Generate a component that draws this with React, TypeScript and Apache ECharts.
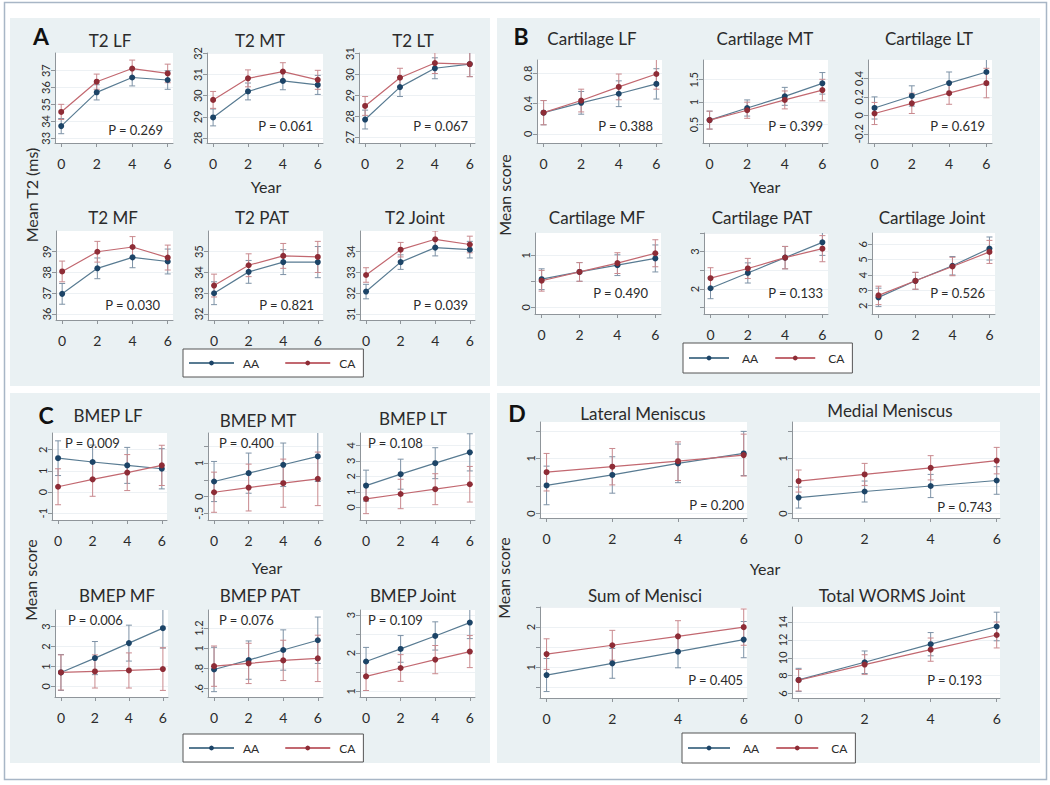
import React, { useEffect, useRef } from 'react';
import * as echarts from 'echarts';

// ---------- DATA ----------
const years = [0, 2, 4, 6];

const plotTitles = [
  'T2 LF', 'T2 MT', 'T2 LT', 'T2 MF', 'T2 PAT', 'T2 Joint',
  'Cartilage LF', 'Cartilage MT', 'Cartilage LT', 'Cartilage MF', 'Cartilage PAT', 'Cartilage Joint',
  'BMEP LF', 'BMEP MT', 'BMEP LT', 'BMEP MF', 'BMEP PAT', 'BMEP Joint',
  'Lateral Meniscus', 'Medial Meniscus', 'Sum of Menisci', 'Total WORMS Joint',
];

const pValues = [
  '0.269', '0.061', '0.067', '0.030', '0.821', '0.039',
  '0.388', '0.399', '0.619', '0.490', '0.133', '0.526',
  '0.009', '0.400', '0.108', '0.006', '0.076', '0.109',
  '0.200', '0.743', '0.405', '0.193',
];

const aaMean = [
  [33.72, 35.72, 36.6, 36.45],
  [28.97, 30.2, 30.7, 30.51],
  [27.85, 29.4, 30.3, 30.5],
  [36.97, 38.2, 38.73, 38.53],
  [33.0, 34.03, 34.5, 34.5],
  [32.08, 33.5, 34.2, 34.1],
  [0.28, 0.41, 0.53, 0.66],
  [0.6, 0.87, 1.13, 1.42],
  [0.08, 0.21, 0.35, 0.47],
  [0.54, 0.68, 0.81, 0.94],
  [2.02, 2.43, 2.84, 3.25],
  [2.54, 3.62, 4.6, 5.72],
  [1.6, 1.42, 1.26, 1.1],
  [0.45, 0.7, 0.95, 1.2],
  [1.4, 2.14, 2.85, 3.55],
  [0.7, 1.42, 2.17, 2.92],
  [0.79, 0.883, 0.983, 1.08],
  [1.78, 2.11, 2.45, 2.8],
  [0.51, 0.7, 0.91, 1.09],
  [0.29, 0.4, 0.5, 0.6],
  [0.81, 1.1, 1.39, 1.69],
  [7.52, 9.5, 11.52, 13.5],
];

const caMean = [
  [34.56, 36.35, 37.13, 36.84],
  [29.8, 30.82, 31.14, 30.75],
  [28.5, 29.85, 30.55, 30.5],
  [38.05, 39.0, 39.23, 38.72],
  [33.37, 34.35, 34.8, 34.75],
  [32.88, 34.1, 34.6, 34.35],
  [0.28, 0.44, 0.62, 0.79],
  [0.6, 0.82, 1.05, 1.27],
  [0.02, 0.13, 0.24, 0.35],
  [0.51, 0.68, 0.85, 1.04],
  [2.29, 2.55, 2.84, 3.08],
  [2.67, 3.62, 4.55, 5.5],
  [0.25, 0.6, 0.92, 1.26],
  [0.13, 0.27, 0.4, 0.53],
  [0.54, 0.86, 1.17, 1.49],
  [0.7, 0.75, 0.8, 0.87],
  [0.823, 0.85, 0.88, 0.9],
  [1.39, 1.61, 1.83, 2.04],
  [0.75, 0.85, 0.95, 1.06],
  [0.59, 0.71, 0.83, 0.96],
  [1.33, 1.55, 1.77, 2.0],
  [7.49, 9.24, 10.91, 12.55],
];

// half-width of the 95% CI
const aaErr = [
  [0.45, 0.45, 0.5, 0.55],
  [0.4, 0.4, 0.42, 0.45],
  [0.45, 0.45, 0.5, 0.6],
  [0.5, 0.5, 0.5, 0.6],
  [0.55, 0.55, 0.6, 0.75],
  [0.35, 0.35, 0.4, 0.4],
  [0.16, 0.15, 0.17, 0.2],
  [0.2, 0.18, 0.2, 0.24],
  [0.12, 0.11, 0.12, 0.14],
  [0.2, 0.18, 0.2, 0.26],
  [0.28, 0.27, 0.3, 0.35],
  [0.6, 0.55, 0.6, 0.75],
  [0.82, 0.8, 0.85, 0.95],
  [0.6, 0.6, 0.65, 0.75],
  [1.0, 0.97, 1.0, 1.2],
  [0.9, 0.83, 0.9, 1.0],
  [0.22, 0.19, 0.2, 0.23],
  [0.37, 0.35, 0.37, 0.42],
  [0.35, 0.33, 0.35, 0.4],
  [0.19, 0.19, 0.21, 0.25],
  [0.41, 0.37, 0.4, 0.45],
  [1.3, 1.26, 1.3, 1.6],
];

const caErr = [
  [0.45, 0.45, 0.5, 0.55],
  [0.4, 0.4, 0.42, 0.45],
  [0.45, 0.45, 0.5, 0.6],
  [0.5, 0.5, 0.5, 0.6],
  [0.55, 0.55, 0.6, 0.75],
  [0.35, 0.35, 0.4, 0.4],
  [0.16, 0.15, 0.17, 0.2],
  [0.2, 0.18, 0.2, 0.24],
  [0.12, 0.11, 0.12, 0.16],
  [0.2, 0.18, 0.2, 0.26],
  [0.28, 0.27, 0.3, 0.35],
  [0.6, 0.55, 0.6, 0.75],
  [0.85, 0.8, 0.85, 0.95],
  [0.6, 0.7, 0.72, 0.8],
  [0.95, 0.95, 1.0, 1.15],
  [0.88, 0.83, 0.88, 1.07],
  [0.2, 0.2, 0.2, 0.23],
  [0.37, 0.35, 0.37, 0.42],
  [0.34, 0.33, 0.35, 0.38],
  [0.2, 0.2, 0.22, 0.24],
  [0.38, 0.37, 0.39, 0.45],
  [1.2, 1.1, 1.3, 1.45],
];

const yTickVals = [
  [33, 34, 35, 36, 37], [28, 29, 30, 31, 32], [27, 28, 29, 30, 31],
  [36, 37, 38, 39], [32, 33, 34, 35], [31, 32, 33, 34],
  [0, 0.4, 0.8], [0.5, 1, 1.5], [-0.2, 0, 0.2, 0.4],
  [0, 0.5, 1], [1.5, 2, 2.5, 3, 3.5], [2, 3, 4, 5, 6],
  [-1, 0, 1, 2], [-0.5, 0, 0.5, 1, 1.5], [0, 1, 2, 3, 4],
  [0, 1, 2, 3], [0.6, 0.8, 1, 1.2], [1, 1.5, 2, 2.5, 3],
  [0, 0.5, 1, 1.5], [0, 0.5, 1, 1.5], [0.5, 1, 1.5, 2, 2.5], [6, 8, 10, 12, 14],
];

const yLabelVals = [
  [33, 34, 35, 36, 37], [28, 29, 30, 31, 32], [27, 28, 29, 30, 31],
  [36, 37, 38, 39], [32, 33, 34, 35], [31, 32, 33, 34],
  [0, 0.4, 0.8], [0.5, 1, 1.5], [-0.2, 0, 0.2, 0.4],
  [0, 1], [2, 3], [2, 3, 4, 5, 6],
  [-1, 0, 1, 2], [-0.5, 0, 1], [0, 1, 2, 3, 4],
  [0, 1, 2, 3], [0.6, 0.8, 1, 1.2], [1, 2, 3],
  [0, 1], [0, 1], [1, 2], [6, 8, 10, 12, 14],
];

const yLabelText = [
  ['33', '34', '35', '36', '37'], ['28', '29', '30', '31', '32'], ['27', '28', '29', '30', '31'],
  ['36', '37', '38', '39'], ['32', '33', '34', '35'], ['31', '32', '33', '34'],
  ['0', '0.4', '0.8'], ['0.5', '1', '1.5'], ['-0.2', '0', '0.2', '0.4'],
  ['0', '1'], ['2', '3'], ['2', '3', '4', '5', '6'],
  ['-1', '0', '1', '2'], ['-.5', '0', '1'], ['0', '1', '2', '3', '4'],
  ['0', '1', '2', '3'], ['.6', '.8', '1', '1.2'], ['1', '2', '3'],
  ['0', '1'], ['0', '1'], ['1', '2'], ['6', '8', '10', '12', '14'],
];

const yRange = [
  [32.72, 38.05], [27.76, 32.02], [26.73, 31.03], [35.71, 40.0], [31.71, 36.0], [30.71, 35.0],
  [-0.12, 0.975], [0.09, 1.94], [-0.3, 0.6], [-0.13, 1.43], [1.33, 3.5], [1.46, 6.73],
  [-1.32, 2.79], [-0.7, 1.9], [-0.82, 4.8], [-0.53, 3.83], [0.517, 1.38], [0.85, 3.13],
  [-0.08, 1.66], [-0.08, 1.66], [0.24, 2.5], [5.5, 15.68],
];

const xRange = [
  ...Array(18).fill([-0.35, 6.3]),
  [-0.2, 6.1], [-0.2, 6.1], [-0.2, 6.1], [-0.2, 6.1],
];

// ---------- LAYOUT ----------
// plot boxes: left, top, width, height
const gridBox = [
  [55, 53, 118, 90], [207, 53, 116, 90], [359, 53, 116, 90],
  [56, 231, 117, 89], [208, 231, 115, 89], [360, 231, 115, 89],
  [537, 60, 125, 83], [703, 60, 125, 83], [868, 60, 124, 83],
  [535, 233, 126, 81], [704, 233, 124, 81], [872, 233, 123, 81],
  [52, 433, 115, 87], [208, 433, 115, 87], [360, 433, 115, 87],
  [55, 610, 113, 87], [208, 610, 115, 87], [360, 610, 115, 87],
  [540, 422, 207, 96], [792, 422, 208, 96],
  [540, 607, 207, 91], [792, 607, 208, 91],
];

const titlePos = [
  [110, 40], [260, 40], [413, 40], [113, 217], [262, 217], [415, 217],
  [592, 38], [765, 38], [929, 38], [597, 217], [762, 217], [932, 217],
  [108, 415], [258, 420], [413, 418], [117, 595], [260, 595], [413, 595],
  [643, 413], [890, 410], [645, 595], [892, 595],
];

const pPos: [number, number, string][] = [
  [163, 130, 'right'], [313, 126, 'right'], [468, 126, 'right'],
  [160, 305, 'right'], [314, 305, 'right'], [468, 305, 'right'],
  [653, 126, 'right'], [823, 126, 'right'], [985, 126, 'right'],
  [648, 293, 'right'], [823, 293, 'right'], [985, 293, 'right'],
  [65, 443, 'left'], [219, 443, 'left'], [368, 443, 'left'],
  [68, 620, 'left'], [219, 620, 'left'], [368, 620, 'left'],
  [744, 505, 'right'], [992, 507, 'right'], [743, 680, 'right'], [982, 680, 'right'],
];

// legend: left, top, itemWidth, itemGap, text gap, vertical padding, right padding
const panels = [
  { box: [10, 18, 480, 368], letter: 'A', lp: [41, 36], year: [266, 186], ylab: 'Mean T2 (ms)', yp: [31, 195], legend: [183, 349, 45, 25, 4, 8, 8] },
  { box: [497, 18, 543, 368], letter: 'B', lp: [521, 36], year: [765, 186], ylab: 'Mean score', yp: [504, 195], legend: [683, 343, 40, 16, 8, 9, 8] },
  { box: [10, 393, 480, 370], letter: 'C', lp: [46, 415], year: [267, 567], ylab: 'Mean score', yp: [30, 580], legend: [183, 734, 45, 25, 4, 8, 8] },
  { box: [497, 393, 543, 370], letter: 'D', lp: [517, 413], year: [765, 568], ylab: 'Mean score', yp: [503, 578], legend: [682, 733, 42, 16, 8, 9, 8] },
];

const FONT = 'Lato, "Open Sans", "DejaVu Sans", sans-serif';
const AA_LINE = '#587b92';
const AA_MARK = '#1c4467';
const AA_ERR = '#7d92a6';
const CA_LINE = '#c26870';
const CA_MARK = '#8e2c36';
const CA_ERR = '#c9898e';
const AXIS = '#8f959a';
const TEXT = '#2b2b2b';

function errRender(color: string) {
  return (params: any, api: any) => {
    const x = api.value(0);
    const lo = api.coord([x, api.value(1)]);
    const hi = api.coord([x, api.value(2)]);
    const c = 3;
    const mk = (x1: number, y1: number, x2: number, y2: number) => ({
      type: 'line',
      shape: { x1, y1, x2, y2 },
      style: { stroke: color, lineWidth: 1 },
    });
    return {
      type: 'group',
      children: [
        mk(lo[0], lo[1], hi[0], hi[1]),
        mk(lo[0] - c, lo[1], lo[0] + c, lo[1]),
        mk(hi[0] - c, hi[1], hi[0] + c, hi[1]),
      ],
    };
  };
}

function buildOption() {
  const grid: any[] = [];
  const xAxis: any[] = [];
  const yAxis: any[] = [];
  const series: any[] = [];
  const graphic: any[] = [];

  // outer frame
  graphic.push({
    type: 'rect', z: -20, silent: true,
    shape: { x: 4.5, y: 2.5, width: 1042, height: 777 },
    style: { fill: '#ffffff', stroke: '#a8b6c6', lineWidth: 1.5 },
  });

  panels.forEach((p) => {
    const [x, y, w, h] = p.box;
    graphic.push({
      type: 'rect', z: -10, silent: true,
      shape: { x, y, width: w, height: h },
      style: { fill: '#eaf1f3' },
    });
    graphic.push({
      type: 'text', z: 10, x: p.lp[0], y: p.lp[1],
      style: { text: p.letter, fontSize: 23, fontWeight: 'bold', fontFamily: FONT, fill: '#111', align: 'center', verticalAlign: 'middle' },
    });
    graphic.push({
      type: 'text', z: 10, x: p.year[0], y: p.year[1],
      style: { text: 'Year', fontSize: 16, fontFamily: FONT, fill: TEXT, align: 'center', verticalAlign: 'middle' },
    });
    graphic.push({
      type: 'text', z: 10, x: p.yp[0], y: p.yp[1], rotation: Math.PI / 2,
      style: { text: p.ylab, fontSize: 16, fontFamily: FONT, fill: TEXT, align: 'center', verticalAlign: 'middle' },
    });
  });

  plotTitles.forEach((t, i) => {
    const [l, tp, w, h] = gridBox[i];
    grid.push({
      left: l, top: tp, width: w, height: h,
      show: true, backgroundColor: '#ffffff', borderWidth: 0,
      containLabel: false, outerBoundsMode: 'none',
    });
    xAxis.push({
      type: 'value', gridIndex: i, min: xRange[i][0], max: xRange[i][1],
      axisLine: { show: true, onZero: false, lineStyle: { color: AXIS, width: 1 } },
      axisTick: { show: true, length: 4, customValues: years, lineStyle: { color: AXIS } },
      axisLabel: { customValues: years, fontSize: 14, margin: 13, color: TEXT, fontFamily: FONT },
      splitLine: { show: false },
    });
    const vals = yLabelVals[i];
    const txt = yLabelText[i];
    yAxis.push({
      type: 'value', gridIndex: i, min: yRange[i][0], max: yRange[i][1],
      axisLine: { show: true, onZero: false, lineStyle: { color: AXIS, width: 1 } },
      axisTick: { show: true, length: 4, customValues: yTickVals[i], lineStyle: { color: AXIS } },
      axisLabel: {
        customValues: vals, rotate: 90, fontSize: 11, margin: 4, color: TEXT, fontFamily: FONT,
        formatter: (v: number) => {
          const k = vals.findIndex((u) => Math.abs(u - v) < 1e-9);
          return k >= 0 ? txt[k] : '';
        },
      },
      splitLine: { show: true, lineStyle: { color: '#edf1f4', width: 1 } },
    });

    series.push({
      type: 'custom', name: 'AA 95% CI', xAxisIndex: i, yAxisIndex: i, clip: true, silent: true, z: 2,
      renderItem: errRender(AA_ERR), encode: { x: 0, y: [1, 2] },
      data: years.map((x, k) => [x, aaMean[i][k] - aaErr[i][k], aaMean[i][k] + aaErr[i][k]]),
    });
    series.push({
      type: 'custom', name: 'CA 95% CI', xAxisIndex: i, yAxisIndex: i, clip: true, silent: true, z: 2,
      renderItem: errRender(CA_ERR), encode: { x: 0, y: [1, 2] },
      data: years.map((x, k) => [x, caMean[i][k] - caErr[i][k], caMean[i][k] + caErr[i][k]]),
    });
    series.push({
      type: 'line', name: 'AA', xAxisIndex: i, yAxisIndex: i, z: 3, silent: true,
      symbol: 'circle', symbolSize: 6, showSymbol: true,
      lineStyle: { color: AA_LINE, width: 1.2 }, itemStyle: { color: AA_MARK },
      data: years.map((x, k) => [x, aaMean[i][k]]),
    });
    series.push({
      type: 'line', name: 'CA', xAxisIndex: i, yAxisIndex: i, z: 4, silent: true,
      symbol: 'circle', symbolSize: 6, showSymbol: true,
      lineStyle: { color: CA_LINE, width: 1.2 }, itemStyle: { color: CA_MARK },
      data: years.map((x, k) => [x, caMean[i][k]]),
    });

    graphic.push({
      type: 'text', z: 10, x: titlePos[i][0], y: titlePos[i][1],
      style: { text: t, fontSize: 17, fontFamily: FONT, fill: TEXT, align: 'center', verticalAlign: 'middle' },
    });
    const pp = pPos[i];
    graphic.push({
      type: 'text', z: 10, x: pp[0], y: pp[1],
      style: { text: 'P = ' + pValues[i], fontSize: 13, fontFamily: FONT, fill: TEXT, align: pp[2], verticalAlign: 'middle' },
    });
  });

  const legend = panels.map((p) => ({
    data: ['AA', 'CA'],
    left: p.legend[0], top: p.legend[1],
    orient: 'horizontal',
    itemWidth: p.legend[2], itemHeight: 6, itemGap: p.legend[3],
    padding: [p.legend[5], p.legend[6], p.legend[5], 5],
    backgroundColor: '#ffffff', borderColor: '#555', borderWidth: 1, borderRadius: 0,
    selectedMode: false,
    textStyle: { fontSize: 12, fontFamily: FONT, color: TEXT, padding: [0, 0, 0, p.legend[4]] },
  }));

  return {
    animation: false,
    backgroundColor: '#ffffff',
    textStyle: { fontFamily: FONT },
    grid, xAxis, yAxis, series, legend,
    graphic: { elements: graphic },
  };
}

export default function App() {
  const ref = useRef<HTMLDivElement>(null);
  useEffect(() => {
    if (!ref.current) return;
    const chart = echarts.init(ref.current, undefined, { renderer: 'svg' });
    chart.setOption(buildOption() as any);
    return () => chart.dispose();
  }, []);
  return (
    <div style={{ position: 'fixed', left: 0, top: 0, width: 1050, height: 785 }}>
      <div ref={ref} style={{ width: 1050, height: 785 }} />
    </div>
  );
}
